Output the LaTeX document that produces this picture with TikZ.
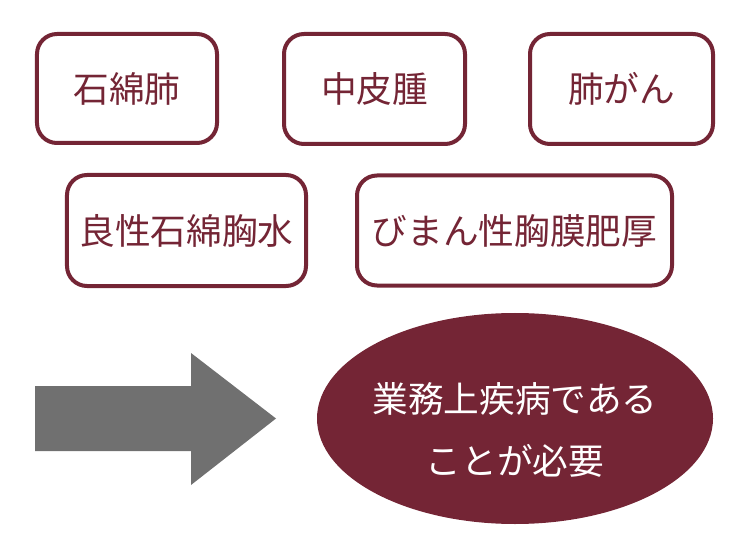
\documentclass[tikz,border=0pt]{standalone}
\usepackage{fontspec}
\setmainfont{Noto Sans CJK JP}
\usetikzlibrary{shapes.geometric}
\definecolor{wine}{HTML}{742535}
\definecolor{arrowgray}{HTML}{707070}
\tikzset{
  boxnode/.style={draw=wine, line width=4bp, rounded corners=20bp, fill=white,
    text=wine, font=\fontsize{35.8}{42}\selectfont, inner sep=0pt},
  goalnode/.style={ellipse, fill=wine, draw=none, inner sep=0pt,
    minimum width=396bp, minimum height=211bp},
  goaltext/.style={text=white, align=center, inner sep=0pt,
    font=\fontsize{35.8}{63}\selectfont}
}
\begin{document}
\begin{tikzpicture}[x=1bp,y=-1bp]
\useasboundingbox (0,0) rectangle (750,557);
\node[boxnode, minimum width=180bp, minimum height=109bp] (b1) at (127,88.5) {石綿肺};
\node[boxnode, minimum width=181bp, minimum height=110bp] (b2) at (374.5,89) {中皮腫};
\node[boxnode, minimum width=183bp, minimum height=110bp] (b3) at (621.5,89) {肺がん};
\node[boxnode, minimum width=239bp, minimum height=111bp] (b4) at (186.5,230.5) {良性石綿胸水};
\node[boxnode, minimum width=315bp, minimum height=110bp] (b5) at (514.5,230.5) {びまん性胸膜肥厚};
\fill[arrowgray] (35,386) -- (191,386) -- (191,353) -- (276,418.5) -- (191,485) -- (191,451) -- (35,451) -- cycle;
\node[goalnode] (goal) at (515,418.5) {};
\node[goaltext] (goaltxt) at (515,430) {業務上疾病である\\ことが必要};
\end{tikzpicture}
\end{document}
